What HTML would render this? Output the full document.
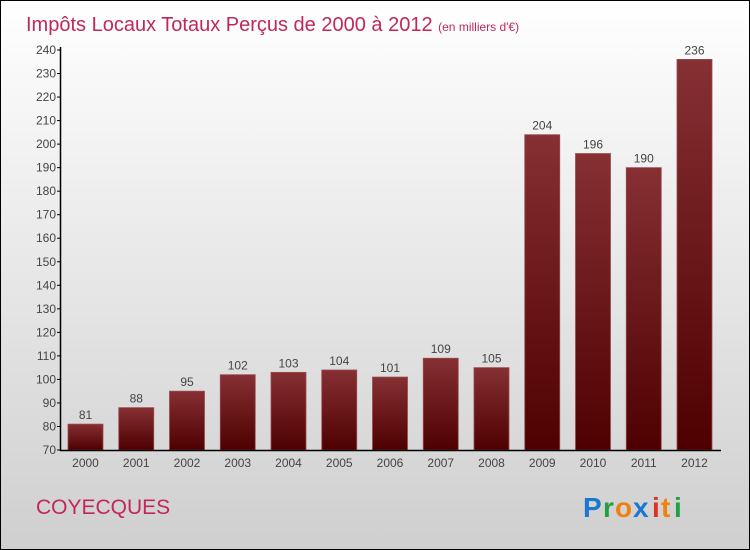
<!DOCTYPE html>
<html><head><meta charset="utf-8"><style>
body{margin:0}
#c{position:relative;width:748px;height:548px;border:1px solid #000;background:linear-gradient(#fff,#cfcfcf);overflow:hidden;font-family:"Liberation Sans",sans-serif}
</style></head><body>
<div id="c">
<svg id="s" width="748" height="548">
<defs><linearGradient id="g" x1="0" y1="0" x2="0" y2="1"><stop offset="0" stop-color="#863034"/><stop offset="1" stop-color="#4e0000"/></linearGradient></defs>
<text x="25" y="30" font-size="20" fill="#c0285a">Impôts Locaux Totaux Perçus de 2000 à 2012 <tspan font-size="12">(en milliers d'€)</tspan></text>
<text x="35" y="513" font-size="21" fill="#c0285a">COYECQUES</text>
<g font-size="28" font-weight="bold" font-family="'Liberation Sans',sans-serif"><text x="582" y="516" fill="#1a78d0">P</text><text x="602" y="516" fill="#22a040">r</text><text x="614" y="516" fill="#f08010">o</text><text x="632" y="516" fill="#1a78d0">x</text><text x="651" y="516" fill="#e03020">i</text><text x="660" y="516" fill="#f08010">t</text><text x="673" y="516" fill="#22a040">i</text></g>
<g id="plot"></g>
</svg></div>
<script>
const years=["2000","2001","2002","2003","2004","2005","2006","2007","2008","2009","2010","2011","2012"];
const values=[81,88,95,102,103,104,101,109,105,204,196,190,236];
const ticks=[70,80,90,100,110,120,130,140,150,160,170,180,190,200,210,220,230,240];
const NS="http://www.w3.org/2000/svg";
const g=document.getElementById('plot');
const y=v=>449-(v-70)*400/170;
const x=i=>67+i*50.75;
function el(t,a){const e=document.createElementNS(NS,t);for(const k in a)e.setAttribute(k,a[k]);g.appendChild(e);return e;}
ticks.forEach(t=>{
 const l=el('line',{x1:56,x2:60,y1:y(t),y2:y(t),stroke:'#000'});
 
 
 const tx=el('text',{x:55,y:y(t)+4,'text-anchor':'end','font-size':12,fill:'#444'});
 tx.textContent=t;
 
 
});
values.forEach((v,i)=>{
 const r=el('rect',{x:x(i),y:y(v),width:35,height:y(70)-y(v),fill:'url(#g)',stroke:'#9a4a4e','stroke-width':0.8});
 
 
 const t=el('text',{x:x(i)+17.5,y:y(v)-5,'text-anchor':'middle','font-size':12,fill:'#444'});
 t.textContent=v;
 
 
 const xl=el('text',{x:x(i)+17.5,y:466,'text-anchor':'middle','font-size':12,fill:'#444'});
 xl.textContent=years[i];
 
 
});
const ya=el('line',{x1:59.5,x2:59.5,y1:46,y2:450,stroke:'#000','stroke-width':1.5});


const xa=el('line',{x1:59,x2:720,y1:449.5,y2:449.5,stroke:'#000','stroke-width':1.5});


</script>
</body></html>
